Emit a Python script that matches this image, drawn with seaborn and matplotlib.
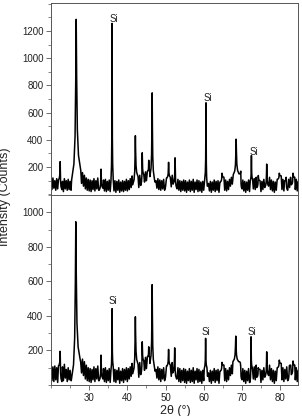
import numpy as np
import pandas as pd
import matplotlib
matplotlib.use("Agg")
import matplotlib.pyplot as plt
from matplotlib.ticker import MultipleLocator, FixedLocator
import seaborn as sns

# ---------------- data ----------------
two_theta_start = 20.0
two_theta_step = 0.25

bg_top = [
    110, 35, 120, 45, 100, 30, 115, 40, 105, 25, 110, 35, 95, 20, 115, 40, 100, 30, 110, 35,
    95, 30, 105, 40, 110, 140, 100, 150, 120, 160, 130, 175, 80, 160, 60, 140, 40, 120, 30, 110,
    25, 105, 20, 100, 35, 115, 25, 100, 40, 120, 30, 110, 50, 130, 45, 105, 25, 110, 20, 95,
    30, 105, 20, 95, 35, 110, 25, 100, 15, 95, 30, 105, 15, 90, 25, 100, 20, 95, 30, 110,
    25, 100, 35, 115, 50, 135, 70, 160, 130, 120, 60, 130, 50, 140, 65, 150, 80, 145, 90, 165,
    100, 170, 120, 175, 130, 150, 170, 130, 110, 90, 100, 45, 115, 35, 105, 30, 100, 40, 110, 30,
    55, 120, 50, 135, 70, 125, 55, 140, 75, 145, 60, 125, 40, 110, 30, 100, 20, 95, 30, 105,
    25, 100, 15, 90, 30, 105, 20, 95, 30, 110, 15, 90, 35, 105, 20, 100, 25, 90, 15, 95,
    30, 105, 35, 110, 60, 80, 25, 95, 15, 90, 30, 105, 20, 95, 30, 100, 15, 90, 35, 110,
    50, 125, 30, 105, 25, 95, 35, 110, 60, 125, 75, 145, 110, 150, 100, 120, 70, 150, 60, 115,
    40, 105, 25, 95, 15, 90, 30, 105, 20, 100, 30, 110, 40, 115, 35, 125, 50, 110, 25, 100,
    20, 95, 35, 110, 50, 135, 70, 145, 60, 125, 35, 105, 25, 95, 15, 90, 30, 110, 40, 115,
    65, 135, 35, 110, 25, 100, 40, 115, 30, 110, 50, 125, 70, 140, 60, 125, 35, 110, 25, 95,
    40,
]

bg_bot = [
    130, 25, 105, 20, 110, 30, 100, 15, 110, 35, 95, 20, 105, 25, 120, 40, 90, 20, 100, 30,
    85, 25, 95, 35, 100, 130, 100, 140, 120, 150, 130, 140, 70, 150, 55, 135, 35, 115, 25, 100,
    20, 95, 15, 90, 30, 105, 20, 95, 35, 110, 25, 100, 40, 125, 35, 95, 20, 100, 15, 85,
    25, 95, 15, 85, 30, 105, 20, 90, 15, 85, 30, 100, 10, 80, 25, 95, 15, 90, 30, 100,
    20, 95, 35, 105, 50, 125, 65, 150, 120, 110, 55, 120, 45, 130, 60, 145, 75, 140, 85, 160,
    95, 165, 130, 160, 125, 140, 160, 120, 100, 80, 90, 40, 105, 30, 95, 20, 90, 35, 100, 25,
    45, 110, 40, 125, 60, 115, 50, 130, 70, 135, 55, 115, 35, 100, 20, 95, 15, 85, 25, 95,
    15, 90, 10, 80, 25, 95, 15, 85, 20, 100, 10, 80, 30, 95, 15, 90, 20, 80, 10, 85,
    25, 95, 30, 100, 50, 70, 20, 85, 10, 80, 25, 95, 15, 85, 25, 90, 10, 80, 30, 100,
    45, 115, 25, 95, 20, 85, 30, 100, 55, 115, 65, 135, 100, 140, 90, 110, 60, 135, 50, 105,
    30, 95, 20, 85, 10, 80, 25, 95, 15, 90, 25, 100, 35, 105, 30, 115, 45, 100, 20, 90,
    15, 85, 30, 100, 45, 125, 60, 135, 55, 115, 30, 95, 20, 85, 10, 80, 25, 100, 35, 105,
    55, 125, 30, 100, 20, 90, 35, 105, 25, 100, 45, 115, 60, 130, 55, 115, 30, 100, 20, 85,
    35,
]

peak_pos_top = [22.4, 26.6, 33.1, 36.0, 42.1, 43.9, 45.6, 46.5, 50.8, 52.5,
                60.6, 64.8, 68.5, 69.7, 72.5, 74.3, 76.5, 79.8, 81.6, 83.4]
peak_h_top = [240, 1285, 185, 1255, 430, 305, 250, 745, 235, 268,
              672, 155, 405, 170, 285, 138, 222, 155, 125, 155]
peak_hw_top = [0.45, 1.2, 0.5, 0.3, 0.7, 0.4, 0.25, 0.6, 0.45, 0.5,
               0.35, 0.5, 0.75, 0.35, 0.3, 0.4, 0.5, 0.5, 0.4, 0.45]

peak_pos_bot = [22.4, 26.5, 33.1, 36.0, 42.1, 43.9, 45.6, 46.5, 50.8, 52.4,
                60.5, 64.8, 68.4, 69.7, 72.4, 74.3, 76.5, 79.8, 82.4, 83.4]
peak_h_bot = [195, 945, 173, 442, 395, 250, 221, 581, 206, 215,
              270, 131, 283, 105, 279, 100, 192, 144, 110, 139]
peak_hw_bot = [0.45, 1.2, 0.5, 0.3, 0.7, 0.4, 0.25, 0.6, 0.45, 0.5,
               0.35, 0.5, 0.75, 0.35, 0.3, 0.4, 0.5, 0.5, 0.4, 0.45]

si_label_x_top = [36.4, 61.0, 73.1]
si_label_y_top = [1290, 705, 313]
si_label_x_bot = [36.1, 60.5, 72.7]
si_label_y_bot = [485, 304, 304]

x_ticks = [30, 40, 50, 60, 70, 80]
y_ticks_top = [200, 400, 600, 800, 1000, 1200]
y_ticks_bot = [200, 400, 600, 800, 1000]


# ---------------- build the pattern from read values ----------------
def pattern(bg, pos, h, hw):
    xs = two_theta_start + np.arange(len(bg)) * two_theta_step
    bg = np.asarray(bg, float)
    keep = np.ones(len(xs), bool)
    for p, w in zip(pos, hw):
        keep &= ~((xs >= p - w) & (xs <= p + w))
    px = list(xs[keep])
    py = list(bg[keep])
    offs = [-1.0, -0.5, -0.25, -0.1, 0.0, 0.1, 0.25, 0.5, 1.0]
    frac = [0.0, 0.1, 0.27, 0.62, 1.0, 0.62, 0.27, 0.1, 0.0]
    for p, hh, w in zip(pos, h, hw):
        fl = bg[int(np.argmin(np.abs(xs - (p - w))))]
        fr = bg[int(np.argmin(np.abs(xs - (p + w))))]
        for o, f in zip(offs, frac):
            foot = fl if o < 0 else fr
            px.append(p + o * w)
            py.append(foot + f * (hh - foot))
    df = pd.DataFrame({"x": px, "y": py}).sort_values("x", kind="stable")
    return df.reset_index(drop=True)


df_top = pattern(bg_top, peak_pos_top, peak_h_top, peak_hw_top)
df_bot = pattern(bg_bot, peak_pos_bot, peak_h_bot, peak_hw_bot)

# ---------------- figure ----------------
sns.set_style("ticks")
plt.rcParams["font.family"] = ["Liberation Sans", "DejaVu Sans"]

fig = plt.figure(figsize=(3.02, 4.16), dpi=100)
left, width = 51 / 302, (298 - 51) / 302
ax_top = fig.add_axes([left, 1 - 195 / 416, width, (195 - 3) / 416])
ax_bot = fig.add_axes([left, 1 - 385 / 416, width, (385 - 195) / 416])

spine_col = "#555555"
for ax, df, ylim, yt, sx, sy in [
    (ax_top, df_top, (-5, 1405), y_ticks_top, si_label_x_top, si_label_y_top),
    (ax_bot, df_bot, (0, 1100), y_ticks_bot, si_label_x_bot, si_label_y_bot),
]:
    sns.lineplot(data=df, x="x", y="y", sort=False, estimator=None,
                 color="#000000", lw=1.1, ax=ax)
    ax.set_xlim(20, 84.7)
    ax.set_ylim(*ylim)
    ax.xaxis.set_major_locator(FixedLocator(x_ticks))
    ax.xaxis.set_minor_locator(MultipleLocator(5))
    ax.yaxis.set_major_locator(FixedLocator(yt))
    ax.yaxis.set_minor_locator(MultipleLocator(100))
    ax.tick_params(which="major", direction="out", length=3.5, width=0.6,
                   color=spine_col, labelsize=7, pad=2, labelcolor="#222222")
    ax.tick_params(which="minor", direction="out", length=2, width=0.5,
                   color=spine_col)
    for s in ax.spines.values():
        s.set_visible(True)
        s.set_color(spine_col)
        s.set_linewidth(0.7)
    ax.set_xlabel("")
    ax.set_ylabel("")
    for tx, ty in zip(sx, sy):
        ax.text(tx, ty, "Si", ha="center", va="center", fontsize=7,
                color="#222222")

ax_top.tick_params(axis="x", labelbottom=False)

fig.text(0.017, 0.526, "Intensity (Counts)", rotation=90, ha="center",
         va="center", fontsize=9, color="#222222")
fig.text(0.579, 0.012, "2θ (°)", ha="center", va="center", fontsize=9,
         color="#222222")

fig.savefig("out.png", dpi=100)
